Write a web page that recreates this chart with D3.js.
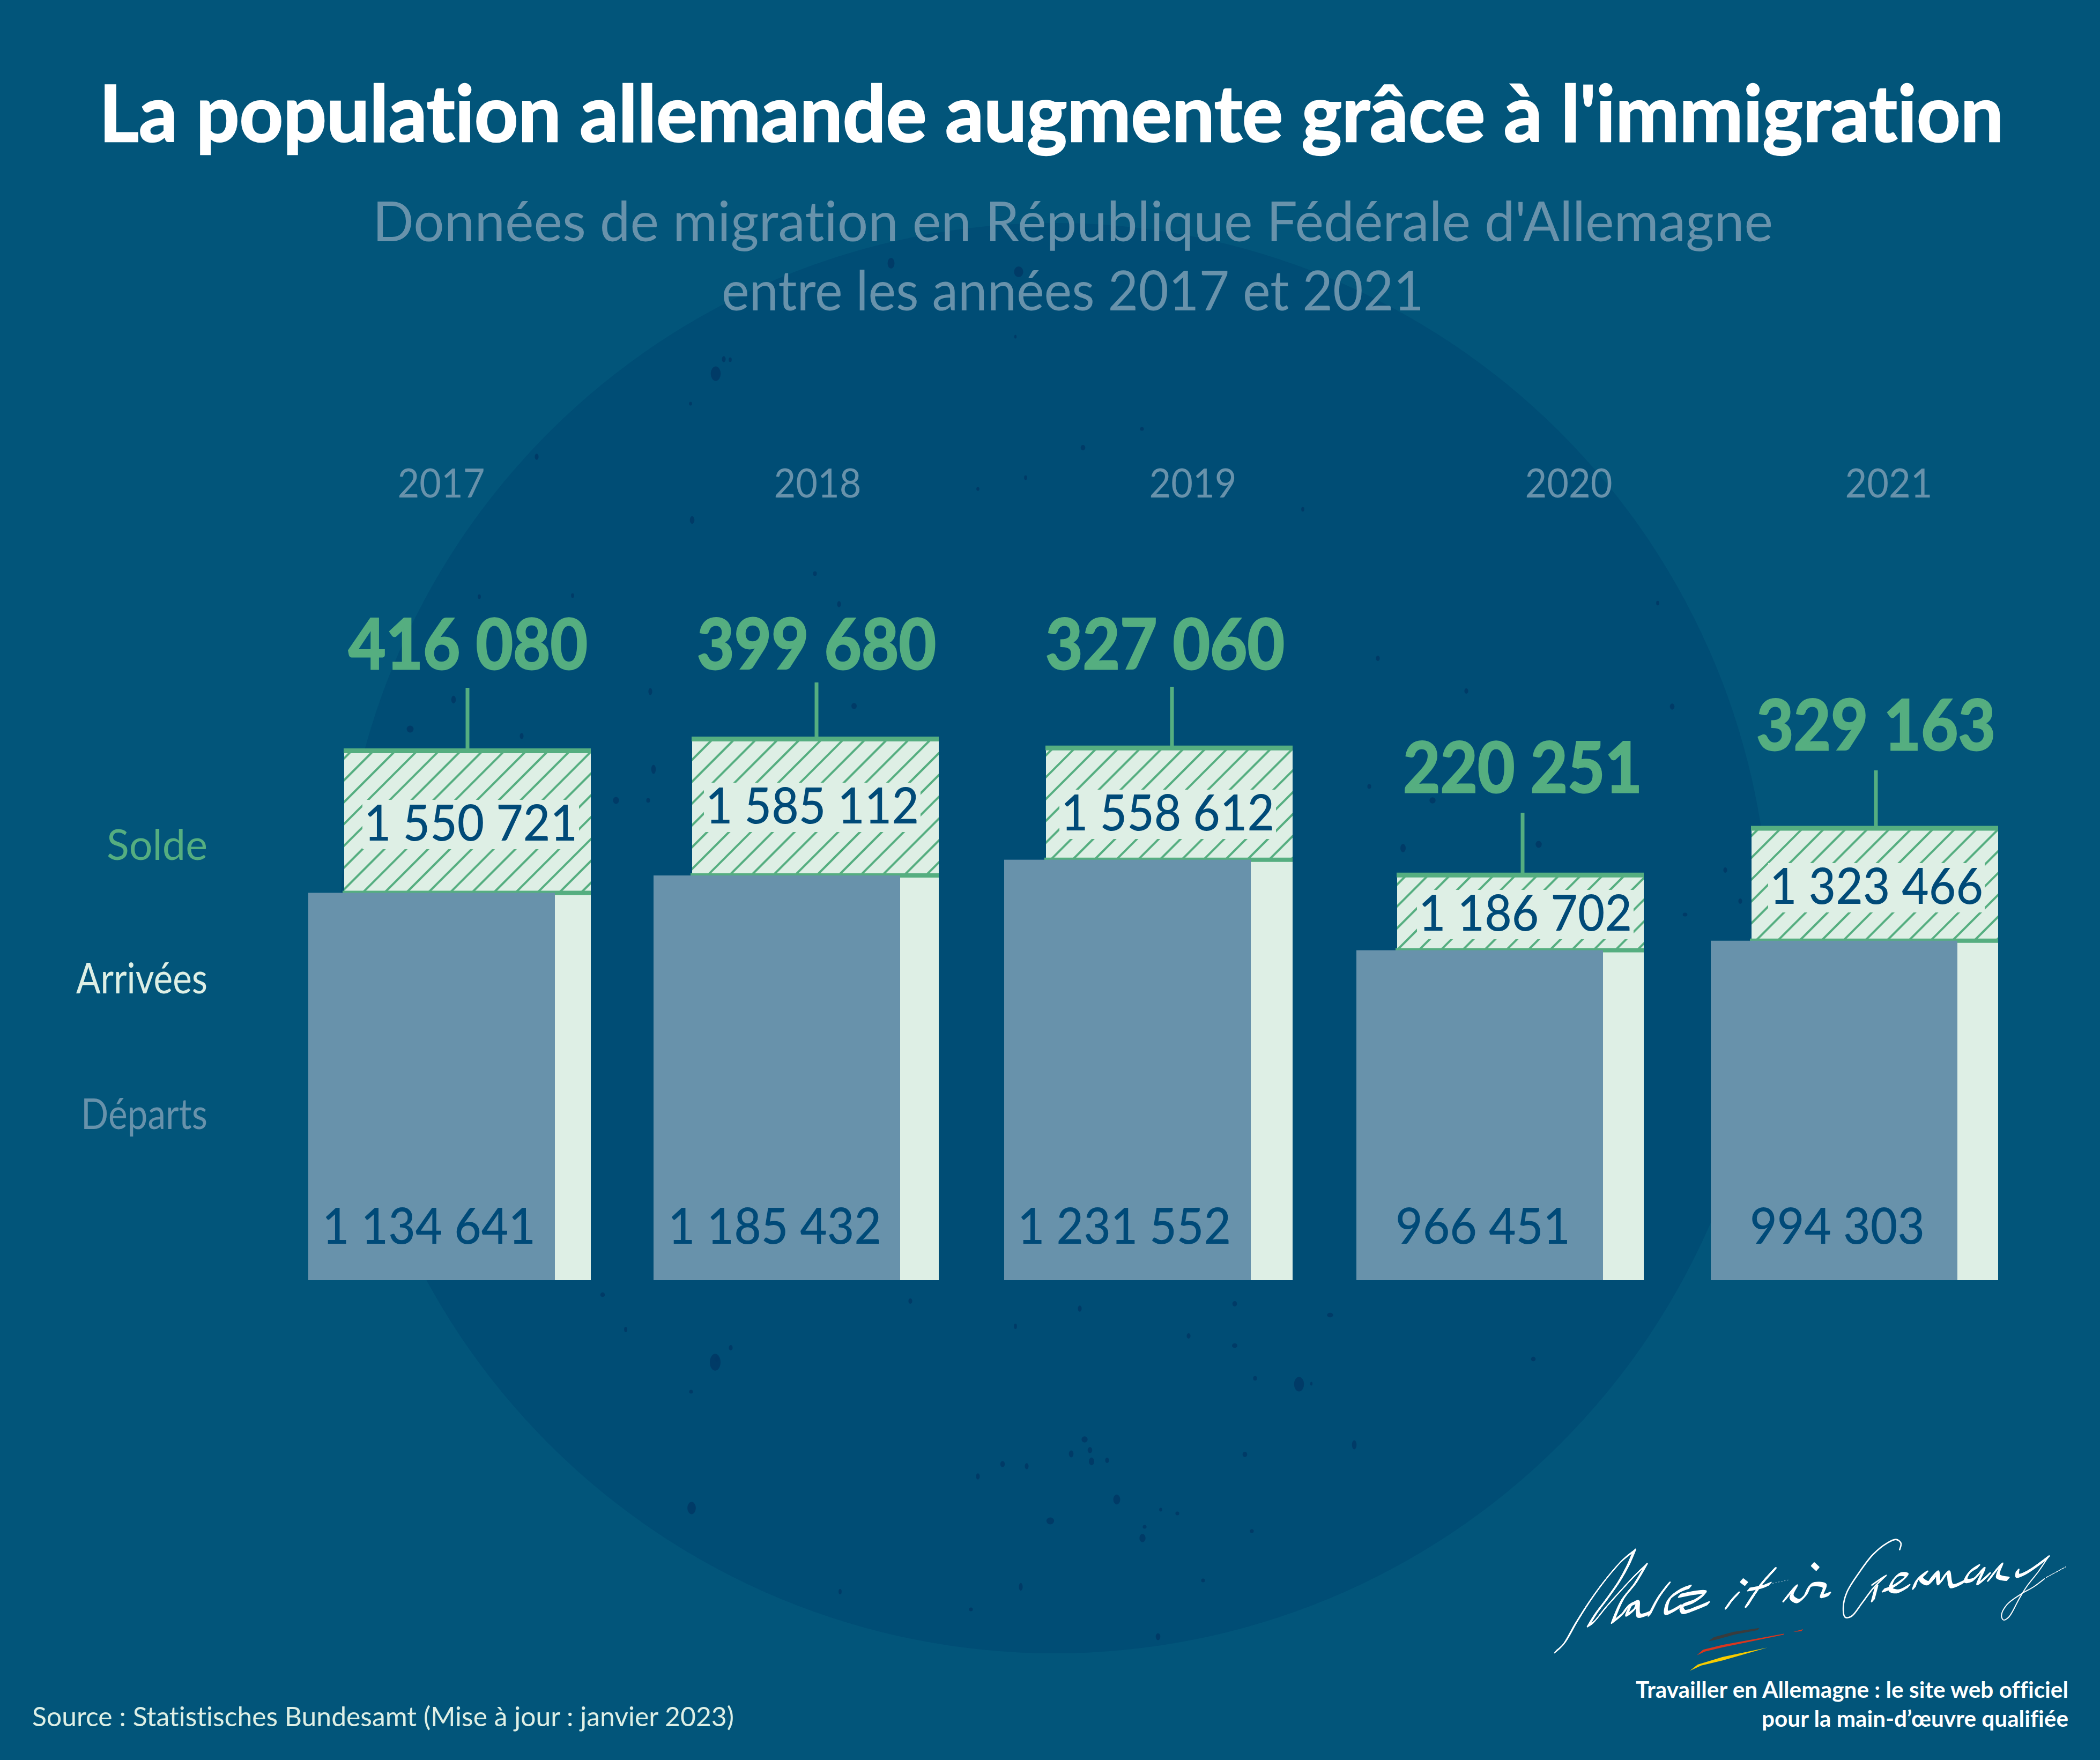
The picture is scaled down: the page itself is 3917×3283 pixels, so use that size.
<!DOCTYPE html>
<html lang="fr">
<head>
<meta charset="utf-8">
<title>La population allemande augmente grâce à l'immigration</title>
<script src="https://cdn.jsdelivr.net/npm/d3@7"></script>
<style>
html,body{margin:0;padding:0;background:#02557a;overflow:hidden}
svg{display:block}
text{font-family:Lato,"Noto Sans",sans-serif;font-variant-ligatures:none;font-feature-settings:"liga" 0}
</style>
</head>
<body>
<svg id="chart" width="3917" height="3283" viewBox="0 0 3917 3283"></svg>
<script>
// ---------- data ----------
const years = ["2017","2018","2019","2020","2021"];
const arrivals = [1550721,1585112,1558612,1186702,1323466];
const departures = [1134641,1185432,1231552,966451,994303];
const balance = [416080,399680,327060,220251,329163];
const legendLabels = ["Solde","Arrivées","Départs"];
const titleText = "La population allemande augmente grâce à l'immigration";
const subtitleLines = ["Données de migration en République Fédérale d'Allemagne","entre les années 2017 et 2021"];
const sourceText = "Source : Statistisches Bundesamt (Mise à jour : janvier 2023)";
const footerLines = ["Travailler en Allemagne : le site web officiel","pour la main-d’œuvre qualifiée"];

// ---------- layout (not data) ----------
const W = 3917, H = 3283, barW = 460, baseY = 2388;
const C = {bg:"#02557a", disc:"#004d75", speck:"#003a66", green:"#55ae80", pale:"#deefe5", blue:"#6892ab", ink:"#004a78", white:"#ffffff"};
const F = {heavy:700, medium:500, regular:400};
const xDep = d3.scaleOrdinal(years,[575,1219,1873,2530,3191]);
const xArr = d3.scaleOrdinal(years,[642,1291,1951,2606,3267]);
const xYear = d3.scaleOrdinal(years,[823,1525,2225,2926,3523]);
const xBal = d3.scaleOrdinal(years,[873,1523,2173,2840,3499]);
const xLead = d3.scaleOrdinal(years,[872,1523,2186,2840,3499]);
const xArrLabel = d3.scaleOrdinal(years,[878,1515,2178,2845,3500]);
const xDepLabel = d3.scaleOrdinal(years,[800,1445,2097,2766,3427]);
const yBalBase = d3.scaleOrdinal(years,[1248,1248,1248,1478,1399]);
const yLeadTop = d3.scaleOrdinal(years,[1283,1273,1281,1516,1437]);
const yArrBase = d3.scaleOrdinal(years,[1568,1536,1549,1736,1686]);
const y = d3.scaleLinear().domain([0,1600000]).range([baseY,baseY-1019]);

const fmt = d3.formatLocale({thousands:" ",grouping:[3],decimal:",",currency:["","€"]}).format(",d");
const rows = years.map((year,i)=>({year,arr:arrivals[i],dep:departures[i],bal:balance[i]}));

// dark specks of the background disc
const specks = [
[1334,2541,14,22],[1290,2813,11,16],[2423,2582,13,19],[2083,2797,9,13],[1959,2837,10,9],[2131,2869,8,11],[2526,2695,6,12],
[2023,2685,8,8],[2033,2705,6,8],[1998,2712,6,9],[2036,2726,7,10],[2065,2724,5,7],[1870,2731,6,8],[1915,2735,5,8],[1824,2754,5,8],
[2322,2713,6,7],[2303,2432,6,7],[2014,2441,5,8],[2481,2453,8,6],[2217,2492,5,7],[2303,2510,7,6],[1894,2474,4,7],[1698,2427,5,7],
[1363,2514,5,7],[1289,2596,5,5],[1167,2480,4,7],[1124,2415,6,6],[1904,2960,5,10],[2160,3053,6,9],[1811,3002,5,5],[1567,2969,4,7],
[2335,2856,5,5],[2244,2948,5,5],[2196,2823,5,5],[2165,2816,4,5],[2341,2571,5,6],[2446,2581,3,5],
[1662,491,9,14],[1900,507,12,14],[1335,697,13,19],[1362,671,4,6],[1001,852,5,8],[1291,970,6,10],[1824,912,4,5],[1913,891,4,6],[1288,753,4,5],[1894,628,3,5],
[765,1360,9,9],[846,1305,6,10],[973,1373,5,8],[1213,1290,5,9],[1219,1435,6,12],[1149,1493,8,9],[1209,1493,5,6],[1593,1317,7,8],[894,1113,4,6],[1068,1111,4,6],[1565,1127,5,8],
[3119,1318,6,8],[2870,1575,8,9],[2617,1582,7,11],[2672,1493,8,8],[2735,1289,5,7],[2570,1228,5,7],[2554,1467,5,6],[3092,1125,4,6],[3143,1706,6,5],[3246,1681,5,7],[3218,1623,5,7],
[1350,670,5,8],[1337,2535,6,6],[2860,2535,6,6],[2135,2848,5,5],[2020,835,6,7],[2130,800,5,5],[2430,950,4,6],[1520,1070,5,6]
];

// hand-traced signature (units: 1/3 px, origin at the logo corner)
const sig = [
 {w:5,p:[[65,692],[110,650],[180,530],[270,390],[360,270],[440,180],[505,128]]},
 {w:8,p:[[505,128],[470,210],[420,300],[350,400],[290,480],[250,545]]},
 {w:5,p:[[250,545],[275,530],[350,440],[440,340],[510,265],[570,208]]},
 {w:8,p:[[570,208],[510,310],[440,400],[385,525]]},
 {w:8,p:[[385,525],[440,480],[470,440],[520,415],[490,430],[465,485],[510,450],[525,418],[530,490],[590,475]]},
 {w:8,p:[[590,485],[640,390],[698,312]]},
 {w:9,p:[[815,330],[760,352],[700,400],[685,475],[760,440]]},
 {w:8,p:[[760,380],[850,362],[900,362],[840,410],[770,440],[780,470],[850,450],[918,422]]},
 {w:9,p:[[1108,295],[1130,312]]},
 {w:9,p:[[1085,368],[1050,405],[1022,445]]},
 {w:10,p:[[1290,232],[1220,310],[1170,380],[1135,435]]},
 {w:5,p:[[1145,345],[1220,330],[1265,312]]},
 {w:3,d:"3 14",flat:true,p:[[1280,310],[1365,292]]},
 {w:9,p:[[1345,405],[1385,355],[1410,328],[1385,385],[1420,410],[1460,380],[1495,320],[1570,325],[1555,380],[1595,370]]},
 {w:9,p:[[1505,205],[1530,228]]},
 {w:8,flat:true,p:[[1990,122],[1997,85],[1970,65],[1920,85],[1840,150],[1760,255],[1695,360],[1675,440],[1685,500],[1720,495],[1780,420],[1840,340],[1900,280],[1915,265],[1835,320]]},
 {w:8,p:[[1860,330],[1840,405]]},
 {w:7,p:[[1900,350],[1950,330],[2030,265],[1990,260],[1950,300],[1940,345],[1980,355],[2040,325]]},
 {w:8,p:[[2070,335],[2090,290],[2140,250],[2110,285],[2150,310],[2190,270]]},
 {w:8,p:[[2150,310],[2200,250],[2210,310],[2260,250],[2280,325],[2350,300]]},
 {w:8,p:[[2430,215],[2380,250],[2360,295],[2400,290],[2460,230],[2430,310],[2490,260]]},
 {w:8,p:[[2490,290],[2560,205],[2540,270],[2595,285]]},
 {w:8,p:[[2650,240],[2650,268],[2700,250],[2820,165]]},
 {w:6,flat:true,p:[[2820,165],[2770,240],[2700,330],[2660,395],[2600,500],[2570,515],[2560,490],[2590,430],[2670,370],[2740,330],[2800,285]]},
 {w:4,d:"14 6",flat:true,p:[[2810,278],[2920,218]]}
];
const flag = [
 {c:"#3a3b3c",p:[[918,635],[950,612],[1060,582],[1205,560],[1195,572],[1070,596],[960,626]]},
 {c:"#d9361e",p:[[855,713],[890,682],[1000,655],[1345,592],[1340,598],[1000,668],[900,692]]},
 {c:"#d9361e",p:[[1395,582],[1450,567],[1440,578]]},
 {c:"#f7cc00",p:[[815,800],[860,765],[1000,722],[1250,670],[1000,742],[880,770]]}
];
const nib = [-1,-.6,-.2,.2,.6,1];   // broad-pen sweep of the signature

// ---------- drawing ----------
const svg = d3.select("#chart");
const defs = svg.append("defs");
const pat = defs.append("pattern").attr("id","hatch").attr("patternUnits","userSpaceOnUse")
  .attr("width",28.8).attr("height",28.8).attr("patternTransform","translate(642,1406) rotate(-45)");
pat.append("rect").attr("width",28.8).attr("height",28.8).attr("fill",C.pale);
pat.append("line").attr("x1",0).attr("x2",28.8).attr("y1",6).attr("y2",6).attr("stroke",C.green).attr("stroke-width",4);

svg.append("rect").attr("width",W).attr("height",H).attr("fill",C.bg);
svg.append("circle").attr("cx",1967).attr("cy",1750).attr("r",1334).attr("fill",C.disc);
svg.append("g").selectAll("ellipse").data(specks).join("ellipse")
  .attr("cx",d=>d[0]).attr("cy",d=>d[1]).attr("rx",d=>d[2]/1.4).attr("ry",d=>d[3]/1.4)
  .attr("fill",C.speck).attr("opacity",.9);

// title block
svg.append("text").attr("x",1961).attr("y",264).text(titleText)
  .attr("fill",C.white).attr("stroke",C.white).attr("stroke-width",2.5)
  .attr("font-size",146).attr("font-weight",F.heavy).attr("text-anchor","middle")
  .attr("textLength",3552).attr("lengthAdjust","spacingAndGlyphs");
svg.append("g").selectAll("text").data(subtitleLines).join("text")
  .attr("x",2001).attr("y",(d,i)=>[450,579][i]).text(d=>d)
  .attr("fill",C.blue).attr("font-size",102).attr("text-anchor","middle")
  .attr("textLength",(d,i)=>[2612,1310][i]).attr("lengthAdjust","spacingAndGlyphs");

// legend
svg.append("g").selectAll("text").data(legendLabels).join("text")
  .attr("x",387).attr("y",(d,i)=>[1604,1853,2106][i]).text(d=>d)
  .attr("text-anchor","end").attr("font-size",80)
  .attr("fill",(d,i)=>[C.green,C.pale,C.blue][i])
  .attr("textLength",(d,i)=>[188,245,236][i]).attr("lengthAdjust","spacingAndGlyphs");

// years
svg.append("g").selectAll("text").data(rows).join("text")
  .attr("x",d=>xYear(d.year)).attr("y",928).text(d=>d.year)
  .attr("text-anchor","middle").attr("font-size",76).attr("fill",C.blue)
  .attr("textLength",163).attr("lengthAdjust","spacingAndGlyphs");

// bars
const g = svg.append("g").selectAll("g").data(rows).join("g");
g.append("rect").attr("x",d=>xArr(d.year)).attr("width",barW)
  .attr("y",d=>y(d.arr)).attr("height",d=>y(0)-y(d.arr)).attr("fill",C.pale);
g.append("rect").attr("x",d=>xArr(d.year)).attr("width",barW)
  .attr("y",d=>y(d.arr)).attr("height",d=>y(d.dep)-y(d.arr)).attr("fill","url(#hatch)");
g.append("line").attr("x1",d=>xArr(d.year)-1).attr("x2",d=>xArr(d.year)+barW)
  .attr("y1",d=>y(d.arr)).attr("y2",d=>y(d.arr)).attr("stroke",C.green).attr("stroke-width",9);
g.append("line").attr("x1",d=>xLead(d.year)).attr("x2",d=>xLead(d.year))
  .attr("y1",d=>yLeadTop(d.year)).attr("y2",d=>y(d.arr)).attr("stroke",C.green).attr("stroke-width",7);
g.append("line").attr("x1",d=>xArr(d.year)-3).attr("x2",d=>xArr(d.year)+barW)
  .attr("y1",d=>y(d.dep)).attr("y2",d=>y(d.dep)).attr("stroke",C.green).attr("stroke-width",8);
g.append("rect").attr("x",d=>xDep(d.year)).attr("width",barW)
  .attr("y",d=>y(d.dep)).attr("height",d=>y(0)-y(d.dep)).attr("fill",C.blue);
// knock-out behind the arrivals figure
g.append("rect").attr("x",d=>xArrLabel(d.year)-202).attr("width",404)
  .attr("y",d=>yArrBase(d.year)-76).attr("height",92).attr("fill",C.pale);

// figures
g.append("text").attr("x",d=>xArrLabel(d.year)).attr("y",d=>yArrBase(d.year)).text(d=>fmt(d.arr))
  .attr("text-anchor","middle").attr("font-size",93).attr("font-weight",F.medium).attr("fill",C.ink)
  .attr("textLength",398).attr("lengthAdjust","spacingAndGlyphs");
g.append("text").attr("x",d=>xDepLabel(d.year)).attr("y",2320).text(d=>fmt(d.dep))
  .attr("text-anchor","middle").attr("font-size",93).attr("font-weight",F.medium).attr("fill",C.ink)
  .attr("textLength",d=>d.dep>=1e6?398:326).attr("lengthAdjust","spacingAndGlyphs");
g.append("text").attr("x",d=>xBal(d.year)).attr("y",d=>yBalBase(d.year)).text(d=>fmt(d.bal))
  .attr("text-anchor","middle").attr("font-size",130).attr("font-weight",F.heavy)
  .attr("fill",C.green).attr("stroke",C.green).attr("stroke-width",3)
  .attr("textLength",446).attr("lengthAdjust","spacingAndGlyphs");

// source
svg.append("text").attr("x",60).attr("y",3220).text(sourceText)
  .attr("font-size",50).attr("fill",C.pale).attr("textLength",1309).attr("lengthAdjust","spacingAndGlyphs");

// footer
svg.append("g").selectAll("text").data(footerLines).join("text")
  .attr("x",3858).attr("y",(d,i)=>[3167,3221][i]).text(d=>d)
  .attr("text-anchor","end").attr("font-size",42).attr("font-weight",F.heavy).attr("fill",C.white)
  .attr("textLength",(d,i)=>[807,572][i]).attr("lengthAdjust","spacingAndGlyphs");

// logo
const logo = svg.append("g").attr("transform","translate(2880,2850) scale(0.3333)");
const ln = d3.line().curve(d3.curveCatmullRom.alpha(.5));
sig.forEach(s=>{
  (s.flat?[0]:nib).forEach(t=>{
    logo.append("path").attr("d",ln(s.p)).attr("transform",`translate(${7*t},${-8*t})`)
      .attr("fill","none").attr("stroke",C.white).attr("stroke-width",s.w)
      .attr("stroke-linecap","round").attr("stroke-linejoin","round")
      .attr("stroke-dasharray",s.d||null);
  });
});
logo.selectAll("path.f").data(flag).join("path").attr("class","f")
  .attr("d",d=>d3.line().curve(d3.curveLinearClosed)(d.p)).attr("fill",d=>d.c);
</script>
</body>
</html>
